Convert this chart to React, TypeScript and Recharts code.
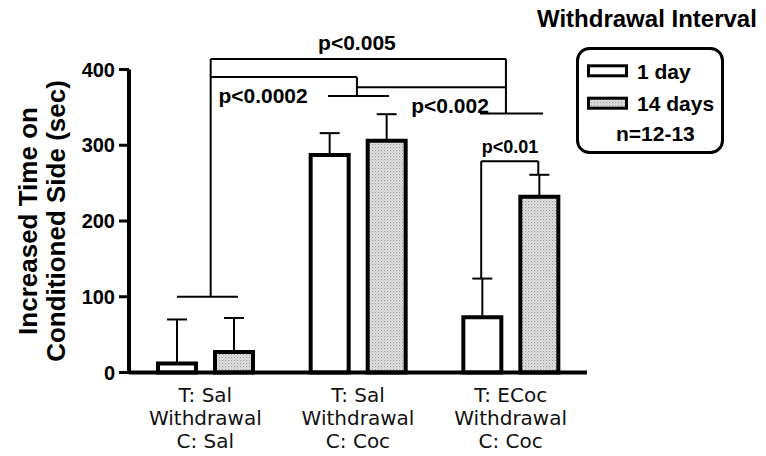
import React from 'react';
import { BarChart, Bar, XAxis, YAxis, ErrorBar, ReferenceLine, ReferenceDot } from 'recharts';

// ---- data ----
const groupKeys = ['salSal', 'salCoc', 'ecocCoc'];
const groupPos = [0.5, 1.5, 2.5];
const groupTreatment = ['T: Sal', 'T: Sal', 'T: ECoc'];
const groupMiddle = ['Withdrawal', 'Withdrawal', 'Withdrawal'];
const groupConditioning = ['C: Sal', 'C: Coc', 'C: Coc'];
const day1Mean = [12, 287, 73];
const day1Sem = [58, 29, 51];
const day14Mean = [27, 306, 232];
const day14Sem = [45, 35, 29];
const yTicks = [0, 100, 200, 300, 400];
const seriesNames = ['1 day', '14 days'];
const legendTitle = 'Withdrawal Interval';
const sampleNote = 'n=12-13';
const yLabelLines = ['Increased Time on', 'Conditioned Side (sec)'];

// significance brackets in (group position 0..3, seconds)
const bracketSegments: number[][] = [
  [0.314, 100, 0.714, 100],
  [0.535, 100, 0.535, 414],
  [0.535, 414, 2.469, 414],
  [0.535, 390, 1.493, 390],
  [1.493, 390, 1.493, 365],
  [1.303, 365, 1.703, 365],
  [1.493, 376.5, 2.469, 376.5],
  [2.469, 414, 2.469, 342],
  [2.299, 342, 2.712, 342],
  [2.307, 124, 2.307, 279],
  [2.307, 279, 2.681, 279],
  [2.681, 279, 2.681, 261],
];
const pLabels = ['p<0.005', 'p<0.0002', 'p<0.002', 'p<0.01'];
const pLabelX = [1.493, 0.878, 2.103, 2.496];
const pLabelY = [436, 366, 353, 298];

const data = groupKeys.map((k, i) => ({
  key: k,
  pos: groupPos[i],
  d1: day1Mean[i],
  d14: day14Mean[i],
  e1: [0, day1Sem[i]],
  e14: [0, day14Sem[i]],
}));

const BOLD = '"Liberation Sans", Arial, sans-serif';

const XTick = (props: any) => {
  const { x, y, payload } = props;
  const i = payload.index;
  return (
    <g>
      <text textAnchor="middle" fontFamily='"DejaVu Sans", Verdana, sans-serif' fontSize={20} fill="#111">
        <tspan x={x} y={y + 29}>{groupTreatment[i]}</tspan>
        <tspan x={x} y={y + 52.5}>{groupMiddle[i]}</tspan>
        <tspan x={x} y={y + 75.5}>{groupConditioning[i]}</tspan>
      </text>
    </g>
  );
};

export default function App() {
  return (
    <div style={{ position: 'absolute', left: 0, top: 0, width: 766, height: 456, background: '#fff' }}>
      <svg width={0} height={0} style={{ position: 'absolute' }}>
        <defs>
          <pattern id="stipple" width="3" height="3" patternUnits="userSpaceOnUse">
            <rect width="3" height="3" fill="#e6e6e6" />
            <rect x="0" y="0" width="1.2" height="1.2" fill="#9a9a9a" />
            <rect x="1.5" y="1.5" width="1.2" height="1.2" fill="#b5b5b5" />
          </pattern>
        </defs>
      </svg>
      <BarChart
        width={766}
        height={456}
        data={data}
        margin={{ top: 69.5, right: 179, bottom: 53.5, left: 0 }}
        barSize={38}
        barGap={19}
      >
        <XAxis
          xAxisId="c"
          dataKey="key"
          type="category"
          height={30}
          tickLine={false}
          tickSize={0}
          tickMargin={0}
          axisLine={{ stroke: '#000', strokeWidth: 4 }}
          tick={<XTick />}
          interval={0}
        />
        <XAxis xAxisId="n" dataKey="pos" type="number" domain={[0, 3]} allowDataOverflow hide />
        <YAxis
          type="number"
          domain={[0, 400]}
          ticks={yTicks}
          width={129}
          tickSize={10}
          tickMargin={4}
          axisLine={{ stroke: '#000', strokeWidth: 4 }}
          tickLine={{ stroke: '#000', strokeWidth: 3 }}
          tick={{ fontFamily: BOLD, fontWeight: 'bold', fontSize: 20, fill: '#000' }}
        />
        <Bar xAxisId="c" dataKey="d1" name={seriesNames[0]} fill="#fff" stroke="#000" strokeWidth={4} isAnimationActive={false}>
          <ErrorBar dataKey="e1" width={10} stroke="#000" strokeWidth={2} direction="y" />
        </Bar>
        <Bar xAxisId="c" dataKey="d14" name={seriesNames[1]} fill="url(#stipple)" stroke="#000" strokeWidth={4} isAnimationActive={false}>
          <ErrorBar dataKey="e14" width={10} stroke="#000" strokeWidth={2} direction="y" />
        </Bar>
        {bracketSegments.map((s, i) => (
          <ReferenceLine
            key={'b' + i}
            xAxisId="n"
            segment={[{ x: s[0], y: s[1] }, { x: s[2], y: s[3] }]}
            stroke="#000"
            strokeWidth={2}
            ifOverflow="visible"
          />
        ))}
        {pLabels.map((t, i) => (
          <ReferenceDot
            key={'p' + i}
            xAxisId="n"
            x={pLabelX[i]}
            y={pLabelY[i]}
            r={0}
            ifOverflow="visible"
            shape={(p: any) => (
              <text
                x={p.cx}
                y={p.cy}
                textAnchor="middle"
                dominantBaseline="central"
                fontFamily={BOLD}
                fontWeight="bold"
                fontSize={i === 3 ? 18 : 21}
                fill="#000"
              >
                {t}
              </text>
            )}
          />
        ))}
      </BarChart>
      <svg width={766} height={456} style={{ position: 'absolute', left: 0, top: 0, pointerEvents: 'none' }}>
        <g transform="translate(0,221) rotate(-90)" fontFamily={BOLD} fontWeight="bold" fontSize={26} fill="#000">
          <text x={0} y={37} textAnchor="middle">{yLabelLines[0]}</text>
          <text x={0} y={65} textAnchor="middle">{yLabelLines[1]}</text>
        </g>
        <g fontFamily={BOLD} fontWeight="bold" fill="#000">
          <text x={537} y={18} fontSize={24} dominantBaseline="central">{legendTitle}</text>
          <rect x={577.5} y={48.5} width={145} height={104} rx={12} ry={12} fill="none" stroke="#000" strokeWidth={3} />
          <rect x={588.5} y={65.8} width={38} height={10} fill="#fff" stroke="#000" strokeWidth={3} />
          <text x={637} y={71} fontSize={21} dominantBaseline="central">{seriesNames[0]}</text>
          <rect x={588.5} y={98.2} width={38} height={10} fill="url(#stipple)" stroke="#000" strokeWidth={3} />
          <text x={637} y={103.5} fontSize={21} dominantBaseline="central">{seriesNames[1]}</text>
          <text x={616} y={133} fontSize={21} dominantBaseline="central">{sampleNote}</text>
        </g>
      </svg>
    </div>
  );
}
